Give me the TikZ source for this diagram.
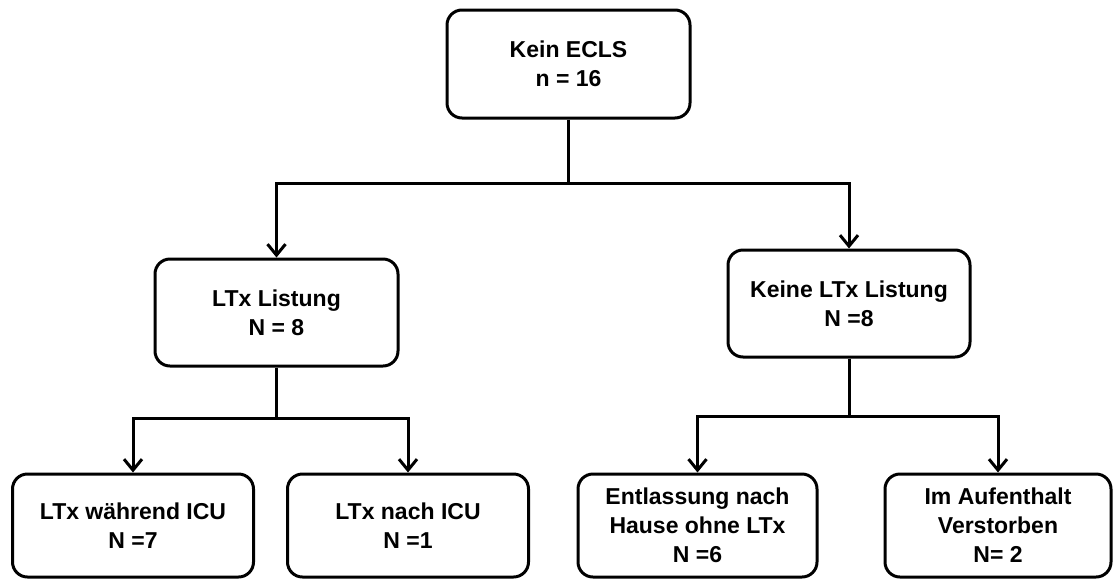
\documentclass[tikz,border=0pt]{standalone}
\usepackage{fontspec}
\setmainfont{Liberation Sans}
\usetikzlibrary{arrows.meta}

\begin{document}
\begin{tikzpicture}[
    x=1pt, y=-1pt,
    % Box styles (groups) and connector styles
    stage/.style={draw=black, line width=3pt, fill=white, text=black, font=\fontsize{23}{29}\selectfont\bfseries, align=center, minimum width=#1, minimum height=103pt, rounded corners=15pt, inner sep=0pt},
    stage/.default=241pt,
    link/.style={draw=black, line width=3pt},
    flow/.style={link, -{Straight Barb[length=11pt, width=18pt]}}
]
\useasboundingbox (0,0) rectangle (1113,579);

% ---------------------------------------------------------
% 1. BOXES AND TEXT (Nodes)
% ---------------------------------------------------------
% ROOT
\node[stage=243pt, minimum height=108pt] (ecls) at (568.5, 64) {Kein ECLS\\n = 16};

% --- ROW 1 ---
\node[stage=243pt, minimum height=107pt] (list) at (276.5, 312.5) {LTx Listung\\N = 8};
\node[stage=242pt, minimum height=107pt] (nolist) at (849, 303.5) {Keine LTx Listung\\N =8};

% --- ROW 2 ---
\node[stage] (during) at (133, 525.5) {LTx während ICU\\N =7};
\node[stage] (after) at (408, 525.5) {LTx nach ICU\\N =1};
\node[stage=239pt] (home) at (697.5, 525.5) {Entlassung nach\\Hause ohne LTx\\N =6};
\node[stage=226pt] (died) at (998, 525.5) {Im Aufenthalt\\Verstorben\\N= 2};

% ---------------------------------------------------------
% 2. CONNECTORS (Tree lines)
% ---------------------------------------------------------
\coordinate (j0) at (ecls.south |- 0,183);
\coordinate (j1) at (list.south |- 0,418);
\coordinate (j2) at (nolist.south |- 0,416);

\draw[link] (ecls.south) -- (j0);
\draw[flow] (j0) -| (list.north);
\draw[flow] (j0) -| (nolist.north);

\draw[link] (list.south) -- (j1);
\draw[flow] (j1) -| (during.north);
\draw[flow] (j1) -| (after.north);

\draw[link] (nolist.south) -- (j2);
\draw[flow] (j2) -| (home.north);
\draw[flow] (j2) -| (died.north);

\end{tikzpicture}
\end{document}
